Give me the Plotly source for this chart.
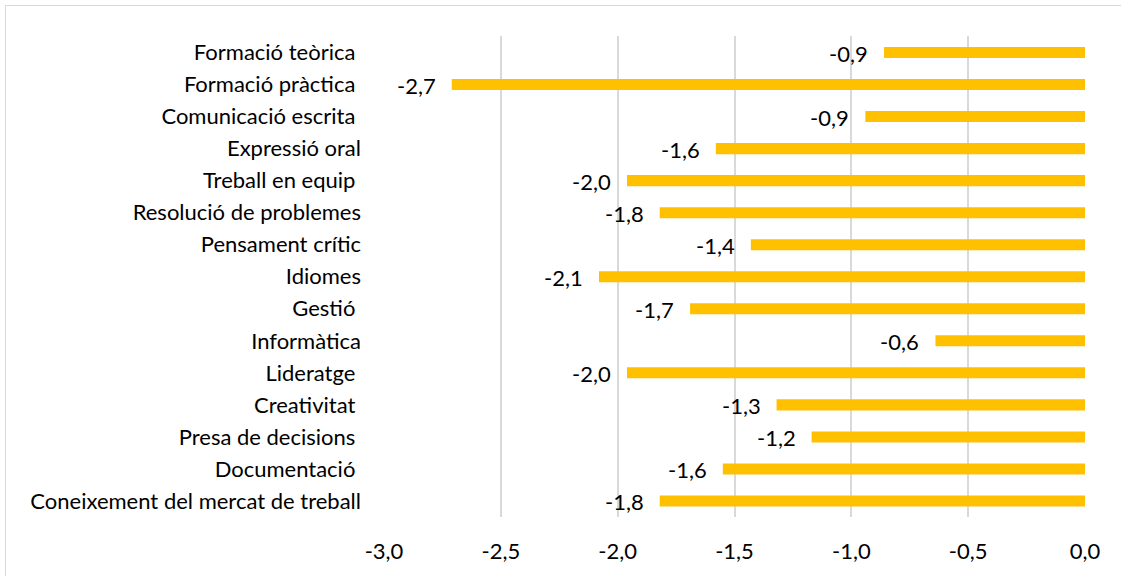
import plotly.graph_objects as go

# Skills, top to bottom, with the gap score for each one
skills = [
    "Formació teòrica",
    "Formació pràctica",
    "Comunicació escrita",
    "Expressió oral",
    "Treball en equip",
    "Resolució de problemes",
    "Pensament crític",
    "Idiomes",
    "Gestió",
    "Informàtica",
    "Lideratge",
    "Creativitat",
    "Presa de decisions",
    "Documentació",
    "Coneixement del mercat de treball",
]
gap_scores = [-0.86, -2.71, -0.94, -1.58, -1.96, -1.82, -1.43, -2.08, -1.69,
              -0.64, -1.96, -1.32, -1.17, -1.55, -1.82]
# Axis captions as typed in the source sheet (some carry a trailing space)
skill_captions = [
    "Formació teòrica ",
    "Formació pràctica ",
    "Comunicació escrita ",
    "Expressió oral",
    "Treball en equip ",
    "Resolució de problemes",
    "Pensament crític",
    "Idiomes",
    "Gestió ",
    "Informàtica",
    "Lideratge ",
    "Creativitat ",
    "Presa de decisions ",
    "Documentació ",
    "Coneixement del mercat de treball",
]
x_ticks = [-3.0, -2.5, -2.0, -1.5, -1.0, -0.5, 0.0]

W, H = 1121, 576
M = dict(l=384, r=36, t=36, b=59)
FONT = "Lato, 'Open Sans', sans-serif"
FS = 22
GOLD = "#FFC000"
GRID = "#d9d9d9"


def fmt(v):
    return f"{v:.1f}".replace(".", ",")


fig = go.Figure()
fig.add_trace(go.Bar(
    x=gap_scores,
    y=skills,
    orientation="h",
    marker=dict(color=GOLD, line=dict(width=0)),
    hoverinfo="skip",
))

# Value labels to the left of each bar end
for s, v in zip(skills, gap_scores):
    fig.add_annotation(
        x=v, y=s, text=fmt(v), showarrow=False,
        xanchor="right", yanchor="middle", xshift=-14, yshift=-1,
        font=dict(family=FONT, size=FS, color="#000000"),
    )

# Chart frame (top and left edges fall inside the page)
pw = W - M["l"] - M["r"]
ph = H - M["t"] - M["b"]
inset = 5.5
fig.add_shape(
    type="rect", xref="paper", yref="paper",
    x0=(inset - M["l"]) / pw, x1=(W + 10 - M["l"]) / pw,
    y0=(-10 - M["b"]) / ph, y1=(H - inset - M["b"]) / ph,
    line=dict(color=GRID, width=1), fillcolor="rgba(0,0,0,0)", layer="below",
)

fig.update_layout(
    width=W, height=H,
    margin=M,
    paper_bgcolor="white",
    plot_bgcolor="white",
    showlegend=False,
    bargap=0.655,
    separators=",.",
    font=dict(family=FONT, size=FS, color="#000000"),
    xaxis=dict(
        range=[-3.0, 0.0],
        tickvals=x_ticks,
        ticktext=[fmt(t) for t in x_ticks],
        showgrid=True, gridcolor=GRID, gridwidth=1.6,
        zeroline=False, showline=False,
        ticks="", ticklabelstandoff=19,
        tickfont=dict(family=FONT, size=FS, color="#000000"),
        fixedrange=True,
    ),
    yaxis=dict(
        type="category",
        autorange="reversed",
        tickvals=skills,
        ticktext=[c.replace(" ", "\u00a0") if c.endswith(" ") else c
                  for c in skill_captions],
        showgrid=False, zeroline=False, showline=False,
        ticks="", ticklabelstandoff=22,
        tickfont=dict(family=FONT, size=FS, color="#000000"),
        fixedrange=True,
    ),
)

fig.write_html("out.html")
